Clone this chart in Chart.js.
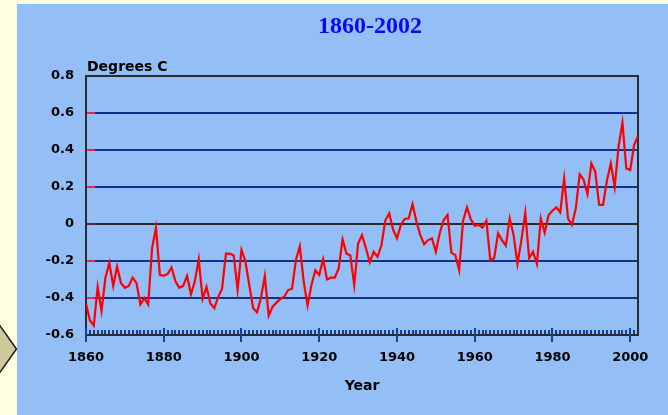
<!doctype html>
<html lang="en">
<head>
<meta charset="UTF-8">
<title>Global temperature 1860-2002</title>
<script src="https://cdn.jsdelivr.net/npm/chart.js"></script>
<style>
body{margin:0;width:668px;height:415px;background:#ffffe0;overflow:hidden;position:relative}
#panel{position:absolute;left:17px;top:4px;width:651px;height:411px;background:#94bff6}
#arrow{position:absolute;left:0;top:318px}
#title{position:absolute;left:270px;top:13px;width:200px;text-align:center;font:bold 24px/24px "Liberation Serif",serif;color:#0a0af0}
#unit{position:absolute;left:87px;top:59px;font:bold 14px/14px "DejaVu Sans",sans-serif;color:#000}
canvas{position:absolute;left:0;top:0}
</style>
</head>
<body>
<svg id="arrow" width="18" height="62"><polygon points="-2,5 16.5,31 -2,57" fill="#cdc99b" stroke="#1a1a1a" stroke-width="1.5"/></svg>
<div id="panel"><canvas id="chart" width="651" height="411"></canvas></div>
<div id="title">1860-2002</div>
<div id="unit">Degrees C</div>

<script>
/* ---------- data (annual anomaly, deg C) ---------- */
const firstYear = 1860;
const temps = [
  -0.43,-0.52,-0.55,-0.34,-0.47,-0.29,-0.21,-0.335,-0.23,-0.32,      // 1860s
  -0.345,-0.335,-0.29,-0.32,-0.435,-0.40,-0.435,-0.13,-0.02,-0.275,  // 1870s
  -0.28,-0.27,-0.235,-0.31,-0.345,-0.335,-0.28,-0.38,-0.31,-0.19,    // 1880s
  -0.405,-0.34,-0.43,-0.455,-0.395,-0.35,-0.16,-0.16,-0.17,-0.357,   // 1890s
  -0.14,-0.20,-0.33,-0.455,-0.477,-0.40,-0.28,-0.495,-0.447,-0.425,  // 1900s
  -0.405,-0.393,-0.357,-0.35,-0.195,-0.12,-0.31,-0.44,-0.33,-0.25,   // 1910s
  -0.275,-0.19,-0.30,-0.29,-0.29,-0.24,-0.083,-0.16,-0.17,-0.33,     // 1920s
  -0.105,-0.06,-0.13,-0.207,-0.15,-0.177,-0.115,0.02,0.058,-0.03,    // 1930s
  -0.077,-0.005,0.027,0.03,0.108,0.013,-0.06,-0.11,-0.087,-0.078,    // 1940s
  -0.15,-0.05,0.02,0.049,-0.155,-0.168,-0.25,0.018,0.09,0.025,       // 1950s
  -0.009,-0.005,-0.02,0.018,-0.195,-0.185,-0.05,-0.087,-0.117,0.03,  // 1960s
  -0.06,-0.216,-0.087,0.061,-0.185,-0.15,-0.216,0.03,-0.047,0.049,   // 1970s
  0.072,0.09,0.063,0.247,0.03,-0.005,0.085,0.268,0.24,0.162,         // 1980s
  0.328,0.283,0.103,0.103,0.234,0.328,0.20,0.418,0.548,0.30,         // 1990s
  0.292,0.427,0.476                                                  // 2000s
];
const xTicks = [1860,1880,1900,1920,1940,1960,1980,2000];
const yTicks = [-0.6,-0.4,-0.2,0,0.2,0.4,0.6,0.8];

const FONT = {family:'"DejaVu Sans", sans-serif', size:13, weight:'bold'};
const NAVY = '#12318f', DARK = '#2b2b2b';

/* ---------- decorations: inner y ticks, yearly x ticks, frame ---------- */
const decor = {
  id:'decor',
  beforeDatasetsDraw(chart){
    const {ctx, chartArea:a, scales:{x, y}} = chart;
    ctx.save();
    ctx.lineWidth = 2;
    yTicks.forEach(v => {
      if (v === -0.6) return;
      const py = Math.round(y.getPixelForValue(v));
      ctx.strokeStyle = (v === 0 || v === 0.8) ? '#6b1f33' : '#e8245a';
      ctx.beginPath(); ctx.moveTo(a.left + 1, py); ctx.lineTo(a.left + 9, py); ctx.stroke();
    });
    // yearly minor ticks
    ctx.strokeStyle = '#1a3c9e';
    ctx.lineWidth = 2;
    for (let yr = x.min + 1; yr < x.max; yr++) {
      if (xTicks.includes(yr)) continue;
      const px = Math.round(x.getPixelForValue(yr));
      ctx.beginPath(); ctx.moveTo(px, a.bottom - 1); ctx.lineTo(px, a.bottom - 5); ctx.stroke();
    }
    xTicks.forEach(v => {
      const px = Math.round(x.getPixelForValue(v));
      ctx.beginPath(); ctx.moveTo(px, a.bottom - 7); ctx.lineTo(px, a.bottom + 7); ctx.stroke();
    });
    // top / right frame
    ctx.strokeStyle = DARK;
    ctx.beginPath();
    ctx.moveTo(a.left, a.top); ctx.lineTo(a.right, a.top); ctx.lineTo(a.right, a.bottom);
    ctx.stroke();
    ctx.restore();
  }
};

new Chart(document.getElementById('chart'), {
  type:'line',
  data:{
    datasets:[{
      data: temps.map((t, i) => ({x: firstYear + i, y: t})),
      borderColor:'#ff0000', borderWidth:2.2, pointRadius:0, tension:0
    }]
  },
  options:{
    responsive:false, animation:false, devicePixelRatio:1,
    layout:{padding:{left:0, top:72, right:30, bottom:0}},
    plugins:{legend:{display:false}, tooltip:{enabled:false}},
    scales:{
      x:{
        type:'linear', min:1860, max:2002,
        afterBuildTicks: s => { s.ticks = xTicks.map(v => ({value:v})); },
        afterFit: s => { s.height = 80; },
        grid:{display:false},
        border:{display:true, color:DARK, width:2},
        ticks:{font:FONT, color:'#000', padding:7, maxRotation:0, callback: v => String(v)},
        title:{display:true, text:'Year', color:'#000', font:{...FONT, size:14}, padding:{top:0, bottom:20}}
      },
      y:{
        min:-0.6, max:0.8,
        afterBuildTicks: s => { s.ticks = yTicks.map(v => ({value:v})); },
        afterFit: s => { s.width = 69; },
        grid:{
          drawTicks:false, lineWidth:2,
          color: c => (c.tick && (c.tick.value === 0 || c.tick.value === 0.8 || c.tick.value === -0.6)) ? DARK : NAVY
        },
        border:{display:true, color:DARK, width:2},
        ticks:{font:FONT, color:'#000', padding:12, callback: v => String(Math.round(v * 10) / 10)}
      }
    }
  },
  plugins:[decor]
});
</script>
</body>
</html>
